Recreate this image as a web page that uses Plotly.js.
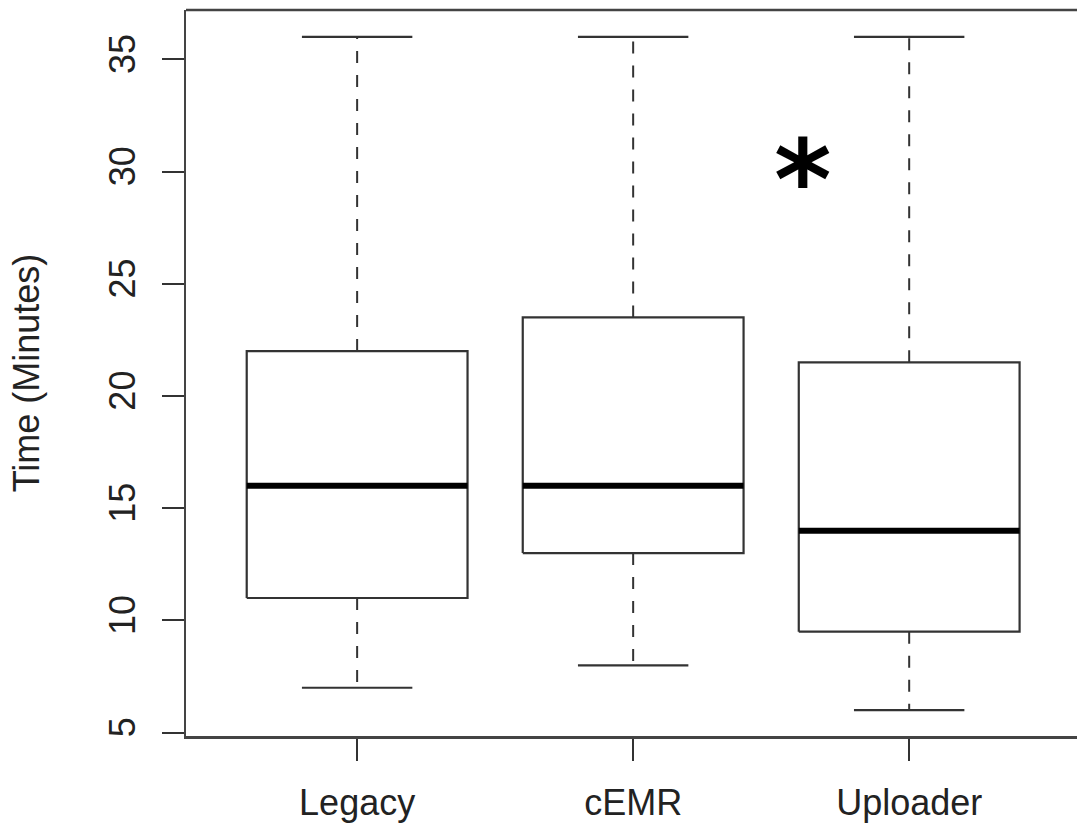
<!DOCTYPE html>
<html>
<head>
<meta charset="utf-8">
<script src="https://cdn.plot.ly/plotly-3.0.1.min.js"></script>
<style>html,body{margin:0;padding:0;background:#fff;}#chart{width:1077px;height:828px;}</style>
</head>
<body>
<div id="chart"></div>
<script>
// Data (minutes)
const categories = ['Legacy', 'cEMR', 'Uploader'];
const lowerWhisker = [7, 8, 6];
const q1 = [11, 13, 9.5];
const median = [16, 16, 14];
const q3 = [22, 23.5, 21.5];
const upperWhisker = [36, 36, 36];
const yTicks = [5, 10, 15, 20, 25, 30, 35];
const significanceMark = { category: 3, y: 30, text: '*' };

// Styling constants
const BOX_HALF = 0.4;
const CAP_HALF = 0.2;
const LINE = '#333';

const pos = categories.map((c, i) => i + 1);

function segs(fn) {
  const x = [], y = [];
  pos.forEach((p, i) => {
    const s = fn(p, i);
    x.push(...s.x, null);
    y.push(...s.y, null);
  });
  return { x, y };
}

const boxes = segs((p, i) => ({
  x: [p - BOX_HALF, p + BOX_HALF, p + BOX_HALF, p - BOX_HALF, p - BOX_HALF],
  y: [q1[i], q1[i], q3[i], q3[i], q1[i]]
}));
const medians = segs((p, i) => ({
  x: [p - BOX_HALF, p + BOX_HALF],
  y: [median[i], median[i]]
}));
const upperW = segs((p, i) => ({ x: [p, p], y: [q3[i], upperWhisker[i]] }));
const lowerW = segs((p, i) => ({ x: [p, p], y: [q1[i], lowerWhisker[i]] }));
const capsU = segs((p, i) => ({ x: [p - CAP_HALF, p + CAP_HALF], y: [upperWhisker[i], upperWhisker[i]] }));
const capsL = segs((p, i) => ({ x: [p - CAP_HALF, p + CAP_HALF], y: [lowerWhisker[i], lowerWhisker[i]] }));

function lineTrace(d, width, color, dash) {
  return {
    type: 'scatter', mode: 'lines', x: d.x, y: d.y,
    line: { color: color, width: width, dash: dash || 'solid' },
    hoverinfo: 'skip', showlegend: false, connectgaps: false
  };
}

const traces = [
  lineTrace(upperW, 2, LINE, '12px,12px'),
  lineTrace(lowerW, 2, LINE, '12px,12px'),
  lineTrace(capsU, 2.2, LINE),
  lineTrace(capsL, 2.2, LINE),
  lineTrace(boxes, 2.2, LINE),
  lineTrace(medians, 6, '#000')
];

const font = { family: 'Liberation Sans, Arial, sans-serif', size: 36, color: '#222' };

const layout = {
  width: 1077, height: 828,
  margin: { l: 186, r: 0, t: 10, b: 92, pad: 0 },
  paper_bgcolor: '#fff', plot_bgcolor: '#fff',
  font: font,
  showlegend: false,
  xaxis: {
    range: [0.38, 3.608],
    tickmode: 'array', tickvals: pos, ticktext: categories,
    ticks: 'outside', ticklen: 22, tickwidth: 2, tickcolor: '#333',
    showline: true, linecolor: '#444', linewidth: 2.5,
    showgrid: false, zeroline: false,
    tickfont: font, ticklabelstandoff: 11
  },
  yaxis: {
    range: [4.85, 37.2],
    tickmode: 'array', tickvals: yTicks, ticktext: yTicks.map(String),
    tickangle: -90,
    ticks: 'outside', ticklen: 22, tickwidth: 2, tickcolor: '#333',
    showline: true, linecolor: '#444', linewidth: 2.5,
    showgrid: false, zeroline: false,
    tickfont: font, ticklabelstandoff: 12,
    title: { text: 'Time (Minutes)', font: font, standoff: 52 }
  },
  shapes: [{
    type: 'line', xref: 'paper', yref: 'paper', x0: 0, x1: 1, y0: 1, y1: 1,
    line: { color: '#444', width: 2.5 }
  }],
  annotations: [{
    x: significanceMark.category - 0.384, y: significanceMark.y,
    xref: 'x', yref: 'y', text: significanceMark.text, showarrow: false,
    font: { family: 'DejaVu Sans', size: 110, color: '#000', weight: 'bold' },
    xanchor: 'center', yanchor: 'middle', yshift: -9
  }]
};

Plotly.newPlot('chart', traces, layout, { displayModeBar: false, staticPlot: true });
</script>
</body>
</html>
